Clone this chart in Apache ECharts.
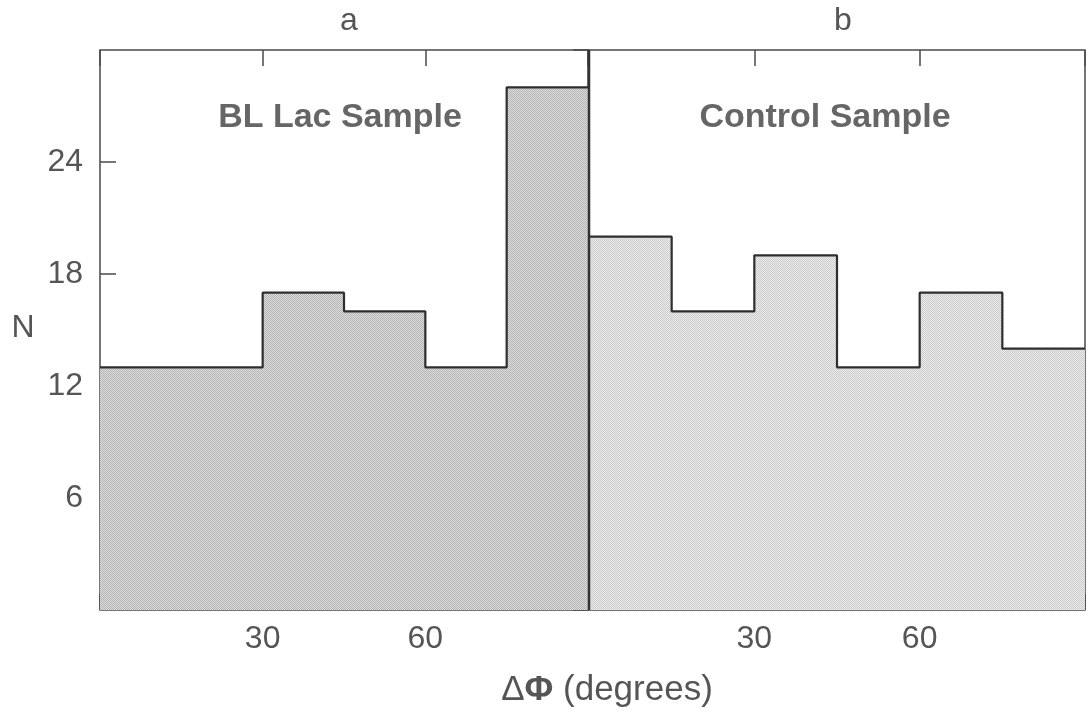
<!DOCTYPE html>
<html>
<head>
<meta charset="utf-8">
<script src="https://cdn.jsdelivr.net/npm/echarts@6/dist/echarts.min.js"></script>
<style>html,body{margin:0;padding:0;background:#fff;}#c{width:1092px;height:714px;}</style>
</head>
<body>
<div id="c"></div>
<script>
// ---- data ----
const binStarts = [0, 15, 30, 45, 60, 75];
const binEnd = 90;
const blLacCounts = [13, 13, 17, 16, 13, 28];
const controlCounts = [20, 16, 19, 13, 17, 14];
const xTickLabels = ['30', '60'];
const yTickLabels = ['6', '12', '18', '24'];
const panelLetters = ['a', 'b'];
const panelTitles = ['BL Lac Sample', 'Control Sample'];
const yAxisName = 'N';

function stepData(counts) {
  const d = binStarts.map((s, i) => [s, counts[i]]);
  d.push([binEnd, counts[counts.length - 1]]);
  return d;
}
function makePattern(c1, c2) {
  const cv = document.createElement('canvas');
  cv.width = 2; cv.height = 2;
  const g = cv.getContext('2d');
  g.fillStyle = c1; g.fillRect(0, 0, 2, 2);
  g.fillStyle = c2; g.fillRect(0, 0, 1, 1); g.fillRect(1, 1, 1, 1);
  return cv;
}
const fontFam = '"Liberation Sans", Arial, sans-serif';
const labelColor = '#555';
const frameColor = '#4a4a4a';

function xLabelFmt(v) { const s = String(v); return xTickLabels.indexOf(s) >= 0 ? s : ''; }
function yLabelFmt(v) { const s = String(v); return yTickLabels.indexOf(s) >= 0 ? s : ''; }

function xAx(gi, pos, showLabel) {
  return {
    type: 'value', gridIndex: gi, position: pos, min: 0, max: 90, interval: 30,
    axisLine: { show: false },
    axisTick: { show: true, inside: true, length: 16, lineStyle: { color: frameColor, width: 1.5 } },
    splitLine: { show: false },
    axisLabel: { show: showLabel, formatter: xLabelFmt, margin: 13, color: labelColor, fontSize: 32, fontFamily: fontFam }
  };
}
function yAx(gi, pos, showLabel) {
  return {
    type: 'value', gridIndex: gi, position: pos, min: 0, max: 30, interval: 6,
    axisLine: { show: false },
    axisTick: { show: true, inside: true, length: 16, lineStyle: { color: frameColor, width: 1.5 } },
    splitLine: { show: false },
    axisLabel: { show: showLabel, formatter: yLabelFmt, margin: 17, color: labelColor, fontSize: 32, fontFamily: fontFam,
      showMinLabel: false, showMaxLabel: false }
  };
}

const chart = echarts.init(document.getElementById('c'), null, { renderer: 'canvas' });
const lineStyle = { color: '#2e2e2e', width: 2.2 };
chart.setOption({
  animation: false,
  backgroundColor: '#fff',
  grid: [
    { left: 100, top: 50, width: 488, height: 560, show: true, borderColor: frameColor, borderWidth: 1.5, backgroundColor: 'transparent' },
    { left: 589, top: 50, width: 496, height: 560, show: true, borderColor: frameColor, borderWidth: 1.5, backgroundColor: 'transparent' }
  ],
  xAxis: [xAx(0, 'bottom', true), xAx(0, 'top', false), xAx(1, 'bottom', true), xAx(1, 'top', false)],
  yAxis: [yAx(0, 'left', true), yAx(1, 'right', false)],
  series: [
    { type: 'line', xAxisIndex: 0, yAxisIndex: 0, step: 'end', data: stepData(blLacCounts), symbol: 'none',
      lineStyle: lineStyle, areaStyle: { color: { image: makePattern('#dcdcdc', '#b4b4b4'), repeat: 'repeat' }, opacity: 1 }, z: 1 },
    { type: 'line', xAxisIndex: 2, yAxisIndex: 1, step: 'end', data: stepData(controlCounts), symbol: 'none',
      lineStyle: lineStyle, areaStyle: { color: { image: makePattern('#ececec', '#cbcbcb'), repeat: 'repeat' }, opacity: 1 }, z: 1 }
  ],
  graphic: [
    { type: 'line', shape: { x1: 589, y1: 50, x2: 589, y2: 610 }, style: { stroke: '#333', lineWidth: 2.5 }, z: 10 },
    { type: 'text', x: 349, y: 21, style: { text: panelLetters[0], fill: labelColor, font: '32px ' + fontFam, textAlign: 'center', textVerticalAlign: 'middle' } },
    { type: 'text', x: 843, y: 21, style: { text: panelLetters[1], fill: labelColor, font: '32px ' + fontFam, textAlign: 'center', textVerticalAlign: 'middle' } },
    { type: 'text', x: 340, y: 118, style: { text: panelTitles[0], fill: '#666', font: 'bold 34px ' + fontFam, textAlign: 'center', textVerticalAlign: 'middle' } },
    { type: 'text', x: 825, y: 118, style: { text: panelTitles[1], fill: '#666', font: 'bold 34px ' + fontFam, textAlign: 'center', textVerticalAlign: 'middle' } },
    { type: 'text', x: 23, y: 328, style: { text: yAxisName, fill: labelColor, font: '32px ' + fontFam, textAlign: 'center', textVerticalAlign: 'middle' } },
    { type: 'text', x: 607, y: 690, style: { text: '{n|Δ}{b|Φ}{n| (degrees)}', textAlign: 'center', textVerticalAlign: 'middle',
      rich: { n: { fill: labelColor, font: '35px ' + fontFam }, b: { fill: labelColor, font: 'bold 35px ' + fontFam } } } }
  ]
});
</script>
</body>
</html>
